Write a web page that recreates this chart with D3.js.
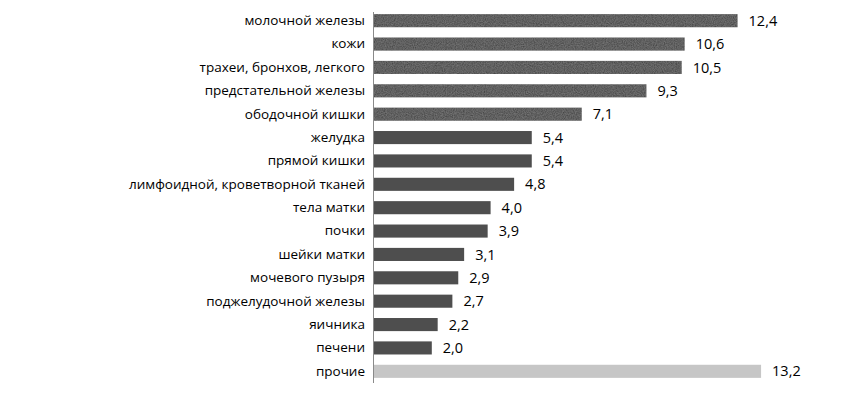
<!DOCTYPE html>
<html><head><meta charset="utf-8">
<script src="https://cdn.jsdelivr.net/npm/d3@7"></script>
<style>body{margin:0;background:#fff;} svg{display:block;}</style>
</head><body>
<svg id="chart" width="842" height="401"></svg>
<script>
const categories = ["молочной железы","кожи","трахеи, бронхов, легкого","предстательной железы","ободочной кишки","желудка","прямой кишки","лимфоидной, кроветворной тканей","тела матки","почки","шейки матки","мочевого пузыря","поджелудочной железы","яичника","печени ","прочие"];
const values = [12.4,10.6,10.5,9.3,7.1,5.4,5.4,4.8,4.0,3.9,3.1,2.9,2.7,2.2,2.0,13.2];
const valueLabels = ["12,4","10,6","10,5","9,3","7,1","5,4","5,4","4,8","4,0","3,9","3,1","2,9","2,7","2,2","2,0","13,2"];

const svg = d3.select("#chart");
const x0 = 373;
const x = d3.scaleLinear().domain([0, 1]).range([x0, x0 + 29.4]);
const y = d3.scaleBand().domain(categories).range([9, 383]).paddingInner(0.44).paddingOuter(0.22);

const defs = svg.append("defs");
const f = defs.append("filter").attr("id","noise").attr("x","0").attr("y","0").attr("width","1").attr("height","1");
f.append("feTurbulence").attr("type","fractalNoise").attr("baseFrequency","0.9").attr("numOctaves","2").attr("result","n");
f.append("feColorMatrix").attr("in","n").attr("type","matrix")
 .attr("values","0 0 0 0 0.6  0 0 0 0 0.6  0 0 0 0 0.6  0 0 0 0.3 -0.05").attr("result","g");
f.append("feComposite").attr("in","g").attr("in2","SourceGraphic").attr("operator","in").attr("result","gc");
f.append("feMerge").selectAll("feMergeNode").data(["SourceGraphic","gc"]).join("feMergeNode").attr("in",d=>d);

const colorFor = (d,i) => i === categories.length - 1 ? "#c6c6c6" : (i < 5 ? "#484848" : "#4e4e4e");

svg.append("g").selectAll("rect").data(values).join("rect")
  .attr("x", x(0))
  .attr("y", (d,i) => y(categories[i]))
  .attr("width", d => x(d) - x(0))
  .attr("height", y.bandwidth())
  .attr("fill", colorFor)
  .attr("filter", (d,i) => i < 5 ? "url(#noise)" : null);

const yAxis = d3.axisLeft(y).tickSize(0).tickPadding(8);
const ga = svg.append("g").attr("transform", `translate(${x0},0)`).call(yAxis);
ga.select(".domain").attr("stroke", "#8a8a8a").attr("d", "M0.5,12V383");
ga.selectAll("text").attr("font-family", "'Open Sans', sans-serif").attr("font-size", 13.5).attr("fill", "#000");

svg.append("g").selectAll("text").data(values).join("text")
  .attr("x", d => x(d) + 11)
  .attr("y", (d,i) => y(categories[i]) + y.bandwidth()/2)
  .attr("dy", "0.35em")
  .attr("font-family", "'Open Sans', sans-serif")
  .attr("font-size", 14.5)
  .attr("fill", "#000")
  .text((d,i) => valueLabels[i]);
</script>
</body></html>
